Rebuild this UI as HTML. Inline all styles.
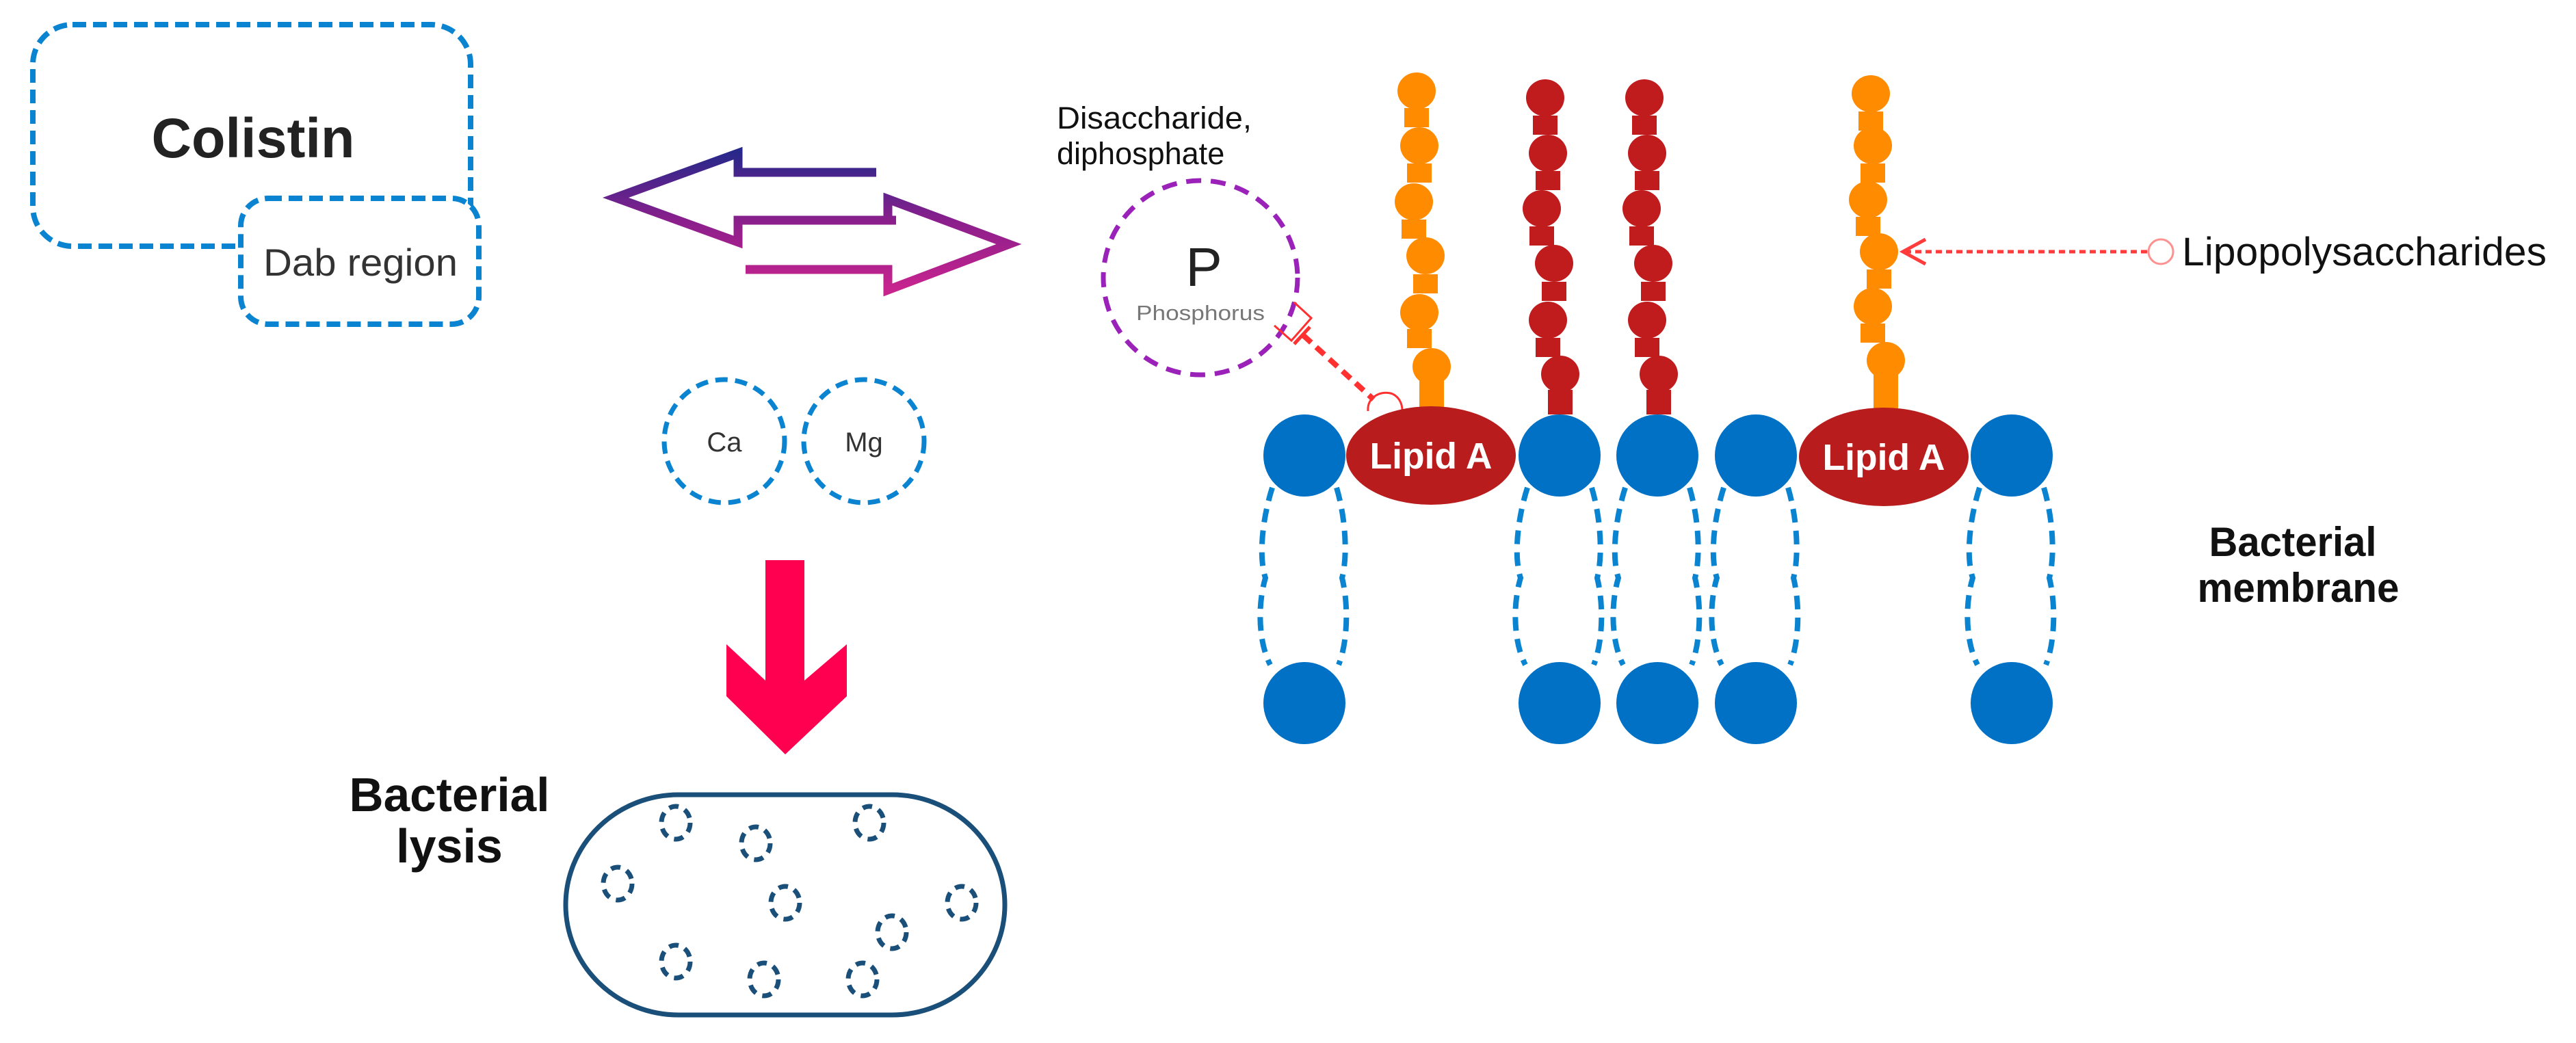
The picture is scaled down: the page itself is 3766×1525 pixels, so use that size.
<!DOCTYPE html>
<html><head><meta charset="utf-8"><style>html,body{margin:0;padding:0;background:#fff}svg{display:block}</style></head>
<body>
<svg width="3766" height="1525" viewBox="0 0 3766 1525" xmlns="http://www.w3.org/2000/svg" font-family="Liberation Sans, Arial, sans-serif">
<defs>
<linearGradient id="g1" x1="0" y1="222" x2="0" y2="424" gradientUnits="userSpaceOnUse">
<stop offset="0" stop-color="#26288a"/><stop offset="0.5" stop-color="#8a1f8c"/><stop offset="1" stop-color="#c8248e"/>
</linearGradient>
</defs>
<rect width="3766" height="1525" fill="#fff"/>

<!-- Colistin boxes -->
<rect x="48" y="36" width="640" height="324" rx="58" fill="none" stroke="#0a84d0" stroke-width="8" stroke-dasharray="20 10"/>
<rect x="352" y="290" width="348" height="184" rx="40" fill="#fff" stroke="#0a84d0" stroke-width="8" stroke-dasharray="20 10"/>
<text x="370" y="230" font-size="82" font-weight="bold" fill="#222" text-anchor="middle" textLength="297" lengthAdjust="spacingAndGlyphs">Colistin</text>
<text x="527" y="403" font-size="56" fill="#333" text-anchor="middle" textLength="284" lengthAdjust="spacingAndGlyphs">Dab region</text>

<!-- double arrows -->
<g fill="none" stroke="url(#g1)" stroke-width="13" stroke-linejoin="miter">
<polyline points="1281,252 1079,252 1079,224 900,289 1079,354 1079,322 1310,322"/>
<polyline points="1298,322 1298,291 1475,357 1298,424 1298,394 1090,394"/>
</g>

<!-- Ca Mg -->
<ellipse cx="1059" cy="645" rx="88" ry="90" fill="none" stroke="#0a84d0" stroke-width="7" stroke-dasharray="18 11"/>
<ellipse cx="1263" cy="645" rx="88" ry="90" fill="none" stroke="#0a84d0" stroke-width="7" stroke-dasharray="18 11"/>
<text x="1059" y="660" font-size="40" fill="#333" text-anchor="middle">Ca</text>
<text x="1263" y="660" font-size="40" fill="#333" text-anchor="middle">Mg</text>

<!-- red arrow down -->
<polygon points="1119,819 1176,819 1176,995 1238,942 1238,1018 1148,1103 1062,1018 1062,942 1119,995" fill="#ff0050"/>

<!-- lysis -->
<text x="657" y="1186" font-size="70" font-weight="bold" fill="#111" text-anchor="middle" textLength="293" lengthAdjust="spacingAndGlyphs">Bacterial</text>
<text x="657" y="1261" font-size="70" font-weight="bold" fill="#111" text-anchor="middle">lysis</text>
<rect x="827" y="1162" width="642" height="322" rx="165" ry="161" fill="none" stroke="#1a4f7a" stroke-width="7"/>
<g fill="none" stroke="#1a4f7a" stroke-width="7" stroke-dasharray="14 10">
<ellipse cx="988" cy="1203" rx="21" ry="24"/>
<ellipse cx="1105" cy="1233" rx="21" ry="24"/>
<ellipse cx="1271" cy="1203" rx="21" ry="24"/>
<ellipse cx="903" cy="1292" rx="21" ry="24"/>
<ellipse cx="1148" cy="1320" rx="21" ry="24"/>
<ellipse cx="1406" cy="1320" rx="21" ry="24"/>
<ellipse cx="1304" cy="1363" rx="21" ry="24"/>
<ellipse cx="988" cy="1406" rx="21" ry="24"/>
<ellipse cx="1117" cy="1432" rx="21" ry="24"/>
<ellipse cx="1261" cy="1432" rx="21" ry="24"/>
</g>

<!-- Disaccharide / P -->
<text x="1545" y="188" font-size="45" fill="#111" textLength="285" lengthAdjust="spacingAndGlyphs">Disaccharide,</text>
<text x="1545" y="240" font-size="45" fill="#111">diphosphate</text>
<circle cx="1755" cy="406" r="142" fill="none" stroke="#9a22b8" stroke-width="7" stroke-dasharray="22 14"/>
<text x="1760" y="418" font-size="80" fill="#222" text-anchor="middle">P</text>
<text x="1755" y="468" font-size="31" fill="#777" text-anchor="middle" textLength="188" lengthAdjust="spacingAndGlyphs">Phosphorus</text>

<!-- inhibitor line -->
<g stroke="#ff3030" fill="none">
<line x1="1905" y1="490" x2="2008" y2="584" stroke-width="8" stroke-dasharray="16 10"/>
<line x1="1892" y1="503" x2="1915" y2="478" stroke-width="5"/>
<polyline points="1892,442 1917,465 1888,498 1863,476" stroke-width="3"/>
<path d="M2000,601 C1998,580 2020,570 2036,576 C2048,582 2050,594 2050,600" stroke-width="3"/>
</g>

<!-- tails -->
<g fill="none" stroke="#0a84d0" stroke-width="8" stroke-dasharray="20 12">
<path d="M1860,713 C1845,760 1840,815 1850,845 C1838,885 1840,940 1857,972"/>
<path d="M1954,713 C1968,760 1970,815 1962,845 C1972,885 1970,940 1957,972"/>
<path d="M2233,713 C2218,760 2213,815 2223,845 C2211,885 2213,940 2230,972"/>
<path d="M2327,713 C2341,760 2343,815 2335,845 C2345,885 2343,940 2330,972"/>
<path d="M2376,713 C2361,760 2356,815 2366,845 C2354,885 2356,940 2373,972"/>
<path d="M2470,713 C2484,760 2486,815 2478,845 C2488,885 2486,940 2473,972"/>
<path d="M2520,713 C2505,760 2500,815 2510,845 C2498,885 2500,940 2517,972"/>
<path d="M2614,713 C2628,760 2630,815 2622,845 C2632,885 2630,940 2617,972"/>
<path d="M2894,713 C2879,760 2874,815 2884,845 C2872,885 2874,940 2891,972"/>
<path d="M2988,713 C3002,760 3004,815 2996,845 C3006,885 3004,940 2991,972"/>
</g>

<!-- blue heads -->
<g fill="#0071c5">
<ellipse cx="1907" cy="666" rx="60" ry="60"/><ellipse cx="2280" cy="666" rx="60" ry="60"/>
<ellipse cx="2423" cy="666" rx="60" ry="60"/><ellipse cx="2567" cy="666" rx="60" ry="60"/>
<ellipse cx="2941" cy="666" rx="60" ry="60"/>
<ellipse cx="1907" cy="1028" rx="60" ry="60"/><ellipse cx="2280" cy="1028" rx="60" ry="60"/>
<ellipse cx="2423" cy="1028" rx="60" ry="60"/><ellipse cx="2567" cy="1028" rx="60" ry="60"/>
<ellipse cx="2941" cy="1028" rx="60" ry="60"/>
</g>

<!-- orange chain 1 -->
<g fill="#ff8c00">
<ellipse cx="2071" cy="133" rx="28" ry="27"/><rect x="2053" y="158" width="36" height="28"/>
<ellipse cx="2075" cy="213" rx="28" ry="27"/><rect x="2057" y="239" width="36" height="28"/>
<ellipse cx="2067" cy="295" rx="28" ry="27"/><rect x="2049" y="321" width="36" height="28"/>
<ellipse cx="2084" cy="374" rx="28" ry="27"/><rect x="2066" y="401" width="36" height="28"/>
<ellipse cx="2075" cy="457" rx="28" ry="27"/><rect x="2057" y="481" width="36" height="28"/>
<ellipse cx="2093" cy="536" rx="28" ry="27"/><rect x="2075" y="555" width="36" height="40"/>
</g>
<!-- orange chain 2 -->
<g fill="#ff8c00">
<ellipse cx="2735" cy="137" rx="28" ry="27"/><rect x="2717" y="163" width="36" height="28"/>
<ellipse cx="2738" cy="213" rx="28" ry="27"/><rect x="2720" y="239" width="36" height="28"/>
<ellipse cx="2731" cy="292" rx="28" ry="27"/><rect x="2713" y="317" width="36" height="28"/>
<ellipse cx="2747" cy="368" rx="28" ry="27"/><rect x="2729" y="394" width="36" height="28"/>
<ellipse cx="2738" cy="448" rx="28" ry="27"/><rect x="2720" y="473" width="36" height="28"/>
<ellipse cx="2757" cy="527" rx="28" ry="27"/><rect x="2739" y="547" width="36" height="50"/>
</g>
<!-- red chains -->
<g fill="#c01c1e">
<ellipse cx="2259" cy="143" rx="28" ry="27"/><rect x="2241" y="169" width="36" height="28"/>
<ellipse cx="2263" cy="224" rx="28" ry="27"/><rect x="2245" y="250" width="36" height="28"/>
<ellipse cx="2254" cy="305" rx="28" ry="27"/><rect x="2236" y="331" width="36" height="28"/>
<ellipse cx="2272" cy="385" rx="28" ry="27"/><rect x="2254" y="412" width="36" height="28"/>
<ellipse cx="2263" cy="468" rx="28" ry="27"/><rect x="2245" y="494" width="36" height="28"/>
<ellipse cx="2281" cy="547" rx="28" ry="27"/><rect x="2263" y="570" width="36" height="36"/>
<ellipse cx="2404" cy="143" rx="28" ry="27"/><rect x="2386" y="169" width="36" height="28"/>
<ellipse cx="2408" cy="224" rx="28" ry="27"/><rect x="2390" y="250" width="36" height="28"/>
<ellipse cx="2400" cy="305" rx="28" ry="27"/><rect x="2382" y="331" width="36" height="28"/>
<ellipse cx="2417" cy="385" rx="28" ry="27"/><rect x="2399" y="412" width="36" height="28"/>
<ellipse cx="2408" cy="468" rx="28" ry="27"/><rect x="2390" y="494" width="36" height="28"/>
<ellipse cx="2425" cy="547" rx="28" ry="27"/><rect x="2407" y="570" width="36" height="36"/>
</g>

<!-- Lipid A -->
<ellipse cx="2092" cy="666" rx="124" ry="72" fill="#b91c1c"/>
<ellipse cx="2754" cy="668" rx="124" ry="72" fill="#b91c1c"/>
<text x="2092" y="685" font-size="54" font-weight="bold" fill="#fff" text-anchor="middle" textLength="179" lengthAdjust="spacingAndGlyphs">Lipid A</text>
<text x="2754" y="687" font-size="54" font-weight="bold" fill="#fff" text-anchor="middle" textLength="179" lengthAdjust="spacingAndGlyphs">Lipid A</text>

<!-- LPS label -->
<line x1="2785" y1="368" x2="3140" y2="368" stroke="#ff3b3b" stroke-width="5" stroke-dasharray="9 6"/>
<polyline points="2815,350 2782,368 2815,386" fill="none" stroke="#ff3b3b" stroke-width="5"/>
<circle cx="3159" cy="368" r="18" fill="#fff" stroke="#ff9090" stroke-width="3"/>
<text x="3190" y="388" font-size="58" fill="#111" textLength="533" lengthAdjust="spacingAndGlyphs">Lipopolysaccharides</text>

<!-- membrane label -->
<text x="3352" y="813" font-size="60" font-weight="bold" fill="#111" text-anchor="middle" textLength="245" lengthAdjust="spacingAndGlyphs">Bacterial</text>
<text x="3360" y="880" font-size="60" font-weight="bold" fill="#111" text-anchor="middle" textLength="295" lengthAdjust="spacingAndGlyphs">membrane</text>
</svg>
</body></html>
